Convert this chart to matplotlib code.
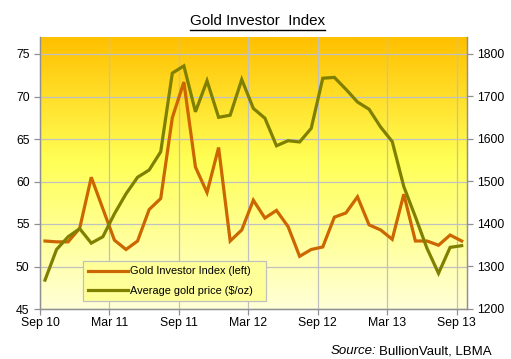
import numpy as np
import matplotlib
matplotlib.use("Agg")
import matplotlib.pyplot as plt
from matplotlib.colors import LinearSegmentedColormap
from matplotlib.lines import Line2D
from matplotlib.legend_handler import HandlerLine2D

plt.rcParams['font.family'] = ['Liberation Sans', 'DejaVu Sans']

# ---- data (monthly, Sep 2010 .. Sep 2013) ----
tick_labels = ["Sep 10", "Mar 11", "Sep 11", "Mar 12", "Sep 12", "Mar 13", "Sep 13"]
gii = [53.0, 52.9, 52.9, 54.5, 60.5, 56.8, 53.1, 52.0, 53.0, 56.7, 58.0, 67.5,
       71.7, 61.7, 58.7, 64.0, 53.0, 54.3, 57.8, 55.7, 56.6, 54.7, 51.2, 52.0,
       52.3, 55.8, 56.3, 58.2, 54.9, 54.3, 53.2, 58.5, 53.0, 53.0, 52.5, 53.7, 53.0]
gold = [1268, 1340, 1370, 1389, 1355, 1370, 1424, 1471, 1510, 1527, 1570, 1755,
        1772, 1664, 1737, 1651, 1656, 1740, 1672, 1649, 1584, 1596, 1593, 1625,
        1743, 1745, 1717, 1687, 1670, 1628, 1594, 1488, 1417, 1343, 1284, 1345, 1349]

W, H = 511, 359
fig = plt.figure(figsize=(W / 100, H / 100), dpi=100)
L, R, T, B = 40, 467, 37, 309
ax = fig.add_axes([L / W, (H - B) / H, (R - L) / W, (B - T) / H])

x = np.arange(len(gii)) + 0.43
xmax = 36.89

# gradient background
cmap = LinearSegmentedColormap.from_list(
    "bg", [(0.0, "#FFC000"), (0.45, "#FFFF55"), (1.0, "#FFFFD8")])
grad = np.linspace(0, 1, 256).reshape(-1, 1)
ax.imshow(grad, cmap=cmap, aspect="auto", extent=[0, xmax, 45, 77],
          origin="upper", zorder=0)

ax.set_xlim(0, xmax)
ax.set_ylim(45, 77)
ax.set_yticks([45, 50, 55, 60, 65, 70, 75])
ax.set_xticks(np.arange(0, 37, 6))
ax.set_xticklabels(tick_labels)
ax.grid(True, color="#C0C0C0", linewidth=0.9, zorder=1)
ax.set_axisbelow(False)

ax2 = ax.twinx()
ax2.set_ylim(1200, 1840)
ax2.set_yticks(np.arange(1200, 1801, 100))

l1, = ax.plot(x, gii, color="#CC6600", linewidth=2.3, zorder=3,
              solid_joinstyle="miter", label="Gold Investor Index (left)")
l2, = ax2.plot(x, gold, color="#808000", linewidth=2.3, zorder=3,
               solid_joinstyle="miter", label="Average gold price ($/oz)")

for a in (ax, ax2):
    for s in a.spines.values():
        s.set_color("#909090")
        s.set_linewidth(0.9)
    a.spines["top"].set_visible(False)
    a.tick_params(colors="#909090", labelcolor="black", labelsize=8.8,
                  length=4, width=0.9, direction="out")
ax.tick_params(axis="x", pad=2)


class ShiftedLine(HandlerLine2D):
    def create_artists(self, legend, orig_handle, xdescent, ydescent, width,
                       height, fontsize, trans):
        arts = super().create_artists(legend, orig_handle, xdescent, ydescent,
                                      width, height, fontsize, trans)
        for a in arts:
            xd = np.asarray(a.get_xdata(), dtype=float)
            if len(xd) == 2:
                a.set_xdata([xd[0] + 11.0, xd[1]])
        return arts


lw_px = 182.4
lh_px = 41.7
leg = ax2.legend(handles=[l1, l2], loc="lower left",
                 bbox_to_anchor=((83.3 - L) / (R - L), (B - 300.7) / (B - T),
                                 lw_px / (R - L), lh_px / (B - T)),
                 mode="expand",
                 fontsize=7.9, frameon=True, fancybox=False,
                 handlelength=3.6, handletextpad=0.2, borderpad=0.45,
                 labelspacing=0.85, borderaxespad=0,
                 handler_map={Line2D: ShiftedLine()})
leg.get_frame().set_facecolor("#FFFF99")
leg.get_frame().set_edgecolor("#C0C0C0")
leg.get_frame().set_linewidth(0.9)
leg.get_frame().set_alpha(1)

# title (underlined)
title = fig.text(257.5 / W, 1 - 21 / H, "Gold Investor  Index", ha="center",
                 va="center", fontsize=10.9)
# source
src1 = fig.text(331 / W, 1 - 351 / H, "Source:", style="italic", fontsize=9.5,
                ha="left", va="center")
fig.canvas.draw()
r = fig.canvas.get_renderer()
bb = title.get_window_extent(r)
fig.add_artist(Line2D([bb.x0 / W, bb.x1 / W], [(H - 29.5) / H, (H - 29.5) / H],
                      color="black", linewidth=1.0, transform=fig.transFigure))
bb2 = src1.get_window_extent(r)
fig.text((bb2.x1 + 2.5) / W, 1 - 351 / H, "BullionVault, LBMA", fontsize=9.5,
         ha="left", va="center")

fig.savefig("out.png", dpi=100)
